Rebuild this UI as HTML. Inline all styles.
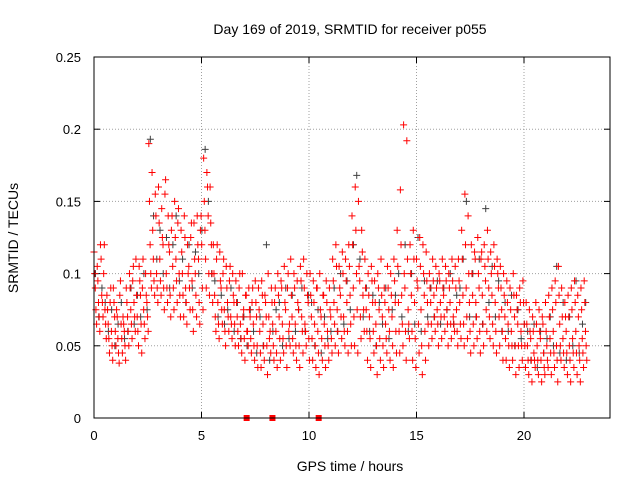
<!DOCTYPE html>
<html><head><meta charset="utf-8"><style>
body{margin:0;background:#fff}
svg{display:block;font-family:"Liberation Sans",sans-serif}
</style></head><body>
<svg id="chart" width="640" height="480" viewBox="0 0 640 480">
<rect x="0" y="0" width="640" height="480" fill="#fff"/>
<g id="grid"></g>
<g id="axes"></g>
<g id="gray"></g>
<g id="red"></g>
<rect x="94" y="57" width="516" height="361" fill="none" stroke="#000" stroke-width="1"/>
<text x="350" y="34" font-size="14" text-anchor="middle">Day 169 of 2019, SRMTID for receiver p055</text>
<text x="350" y="471" font-size="14" text-anchor="middle">GPS time / hours</text>
<text transform="translate(18,238) rotate(-90)" font-size="14" text-anchor="middle">SRMTID / TECUs</text>
</svg>
<script>
const xTicks=[0,5,10,15,20];
const yTicks=[0,0.05,0.1,0.15,0.2,0.25];
const yTickLabels=["0","0.05","0.1","0.15","0.2","0.25"];
const times=[0,0.15,0.3,0.45,0.6,0.75,0.9,1.05,1.2,1.35,1.5,1.65,1.8,1.95,2.1,2.25,2.4,2.55,2.7,2.85,3,3.15,3.3,3.45,3.6,3.75,3.9,4.05,4.2,4.35,4.5,4.65,4.8,4.95,5.1,5.25,5.4,5.55,5.7,5.85,6,6.15,6.3,6.45,6.6,6.75,6.9,7.05,7.2,7.35,7.5,7.65,7.8,7.95,8.1,8.25,8.4,8.55,8.7,8.85,9,9.15,9.3,9.45,9.6,9.75,9.9,10.05,10.2,10.35,10.5,10.65,10.8,10.95,11.1,11.25,11.4,11.55,11.7,11.85,12,12.15,12.3,12.45,12.6,12.75,12.9,13.05,13.2,13.35,13.5,13.65,13.8,13.95,14.1,14.25,14.4,14.55,14.7,14.85,15,15.15,15.3,15.45,15.6,15.75,15.9,16.05,16.2,16.35,16.5,16.65,16.8,16.95,17.1,17.25,17.4,17.55,17.7,17.85,18,18.15,18.3,18.45,18.6,18.75,18.9,19.05,19.2,19.35,19.5,19.65,19.8,19.95,20.1,20.25,20.4,20.55,20.7,20.85,21,21.15,21.3,21.45,21.6,21.75,21.9,22.05,22.2,22.35,22.5,22.65,22.8];
const redA=[.115,.105,.12,.10,.085,.08,.09,.075,.085,.07,.09,.10,.095,.11,.105,.09,.10,.19,.17,.155,.16,.145,.155,.14,.13,.15,.135,.13,.14,.12,.125,.135,.14,.13,.18,.17,.16,.12,.11,.115,.10,.105,.095,.10,.095,.09,.10,.085,.09,.08,.095,.09,.095,.085,.10,.09,.08,.10,.095,.105,.09,.11,.10,.095,.105,.11,.10,.10,.095,.09,.10,.085,.095,.09,.11,.12,.105,.115,.11,.12,.14,.16,.15,.13,.11,.10,.105,.095,.10,.11,.09,.105,.10,.11,.13,.158,.203,.192,.12,.13,.11,.125,.12,.115,.10,.11,.105,.10,.11,.105,.10,.11,.105,.11,.13,.155,.14,.12,.115,.125,.11,.12,.13,.115,.12,.11,.105,.10,.095,.09,.10,.085,.09,.095,.08,.075,.07,.08,.075,.07,.08,.085,.09,.095,.105,.09,.08,.085,.09,.095,.085,.09,.095];
const redB=[.09,.08,.085,.075,.065,.06,.07,.055,.065,.06,.07,.075,.08,.07,.085,.075,.08,.12,.11,.10,.11,.12,.10,.115,.105,.11,.10,.10,.09,.105,.095,.10,.11,.12,.13,.14,.12,.085,.08,.09,.075,.08,.07,.08,.07,.065,.075,.06,.07,.065,.07,.06,.065,.07,.055,.065,.06,.07,.065,.075,.06,.07,.065,.075,.07,.065,.08,.07,.065,.06,.07,.065,.06,.07,.08,.075,.085,.07,.08,.085,.09,.10,.095,.085,.075,.07,.08,.065,.075,.07,.065,.075,.07,.08,.08,.085,.09,.075,.085,.08,.09,.075,.085,.08,.08,.085,.075,.08,.085,.075,.08,.07,.075,.08,.085,.09,.08,.085,.08,.09,.085,.095,.09,.085,.08,.09,.075,.07,.065,.06,.07,.065,.06,.065,.05,.055,.045,.05,.055,.045,.05,.055,.06,.05,.065,.055,.06,.05,.055,.06,.05,.055,.06];
const redC=[.065,.06,.07,.055,.045,.04,.05,.038,.045,.04,.05,.055,.06,.05,.045,.055,.06,.09,.085,.08,.085,.075,.08,.07,.075,.08,.07,.07,.065,.075,.06,.07,.065,.075,.09,.085,.08,.06,.055,.065,.05,.06,.055,.05,.05,.045,.04,.05,.045,.04,.035,.035,.04,.03,.045,.04,.035,.04,.045,.035,.05,.045,.04,.035,.045,.05,.04,.04,.035,.03,.04,.035,.04,.045,.05,.045,.055,.05,.045,.05,.05,.045,.055,.06,.04,.035,.045,.03,.04,.035,.045,.04,.035,.045,.045,.05,.04,.055,.04,.035,.045,.03,.04,.05,.055,.06,.05,.055,.06,.05,.055,.06,.05,.055,.05,.055,.045,.05,.055,.045,.05,.06,.055,.05,.045,.05,.04,.04,.035,.04,.03,.035,.04,.035,.03,.025,.035,.03,.025,.03,.035,.03,.035,.025,.04,.035,.03,.025,.035,.03,.025,.035,.04];
const redD=[.10,.095,.11,.12,.075,.09,.08,.07,.095,.065,.08,.09,.105,.085,.095,.11,.085,.15,.13,.14,.135,.125,.165,.12,.14,.125,.145,.115,.125,.10,.135,.11,.12,.14,.15,.16,.135,.10,.12,.095,.11,.09,.105,.085,.08,.10,.07,.085,.075,.09,.08,.075,.085,.08,.07,.08,.09,.085,.09,.08,.10,.085,.09,.08,.095,.09,.085,.085,.08,.09,.075,.085,.08,.075,.095,.105,.09,.10,.095,.105,.12,.13,.105,.115,.09,.085,.095,.08,.09,.085,.08,.09,.085,.095,.105,.12,.10,.11,.10,.11,.095,.105,.10,.095,.09,.095,.09,.095,.09,.095,.09,.095,.09,.095,.11,.12,.10,.10,.11,.10,.115,.105,.11,.10,.105,.10,.09,.085,.08,.075,.085,.075,.08,.08,.065,.06,.06,.065,.06,.065,.06,.07,.075,.08,.085,.07,.07,.07,.075,.08,.07,.075,.08];
const redE=[.075,.07,.08,.065,.055,.05,.06,.045,.055,.05,.06,.065,.07,.06,.065,.065,.07,.10,.095,.09,.095,.09,.09,.085,.09,.095,.085,.085,.08,.09,.075,.085,.08,.09,.11,.10,.10,.07,.065,.075,.06,.07,.065,.065,.06,.055,.055,.06,.055,.05,.05,.045,.05,.05,.06,.05,.045,.055,.055,.05,.065,.055,.05,.05,.06,.06,.055,.055,.05,.045,.055,.05,.05,.055,.065,.06,.07,.06,.06,.065,.07,.075,.07,.075,.06,.055,.06,.05,.055,.05,.055,.06,.05,.06,.06,.065,.06,.065,.06,.055,.065,.05,.06,.065,.065,.07,.065,.07,.07,.065,.065,.065,.06,.065,.065,.07,.06,.065,.07,.06,.065,.075,.07,.065,.06,.07,.06,.055,.05,.05,.05,.05,.05,.05,.04,.04,.04,.04,.04,.035,.04,.045,.045,.04,.05,.045,.045,.04,.045,.045,.04,.045,.05];
const grayV=[.10,.07,.09,.08,.06,.075,.05,.065,.08,.055,.06,.09,.065,.085,.07,.10,.075,.193,.14,.11,.13,.10,.125,.09,.12,.14,.095,.11,.08,.12,.09,.115,.10,.13,.186,.15,.10,.095,.07,.085,.065,.075,.09,.06,.08,.055,.07,.05,.075,.06,.045,.07,.05,.12,.04,.06,.075,.08,.05,.09,.055,.085,.06,.075,.09,.06,.085,.08,.05,.075,.045,.07,.055,.06,.09,.06,.10,.065,.095,.075,.12,.168,.11,.07,.09,.06,.085,.05,.08,.065,.09,.055,.075,.085,.10,.07,.12,.06,.10,.065,.125,.06,.095,.07,.09,.07,.095,.065,.09,.075,.10,.065,.085,.09,.11,.15,.07,.10,.07,.11,.065,.145,.08,.105,.07,.095,.06,.08,.06,.085,.05,.075,.055,.065,.06,.04,.065,.035,.06,.045,.055,.07,.05,.105,.045,.08,.04,.07,.05,.095,.045,.065,.08];
const squareTimes=[7.1,8.3,10.45];

const NS="http://www.w3.org/2000/svg";
const X0=94,X1=610,Y0=418,Y1=57,XMAX=24,YMAX=0.25;
function xs(t){return X0+t/XMAX*(X1-X0);}
function ys(v){return Y0-v/YMAX*(Y0-Y1);}
function mk(tag,attrs,parent){const e=document.createElementNS(NS,tag);for(const k in attrs)e.setAttribute(k,attrs[k]);parent.appendChild(e);return e;}
const grid=document.getElementById('grid'),axes=document.getElementById('axes');
xTicks.forEach(t=>{
  const x=xs(t);
  if(t>0){const g=mk('line',{x1:x,x2:x,y1:Y0,y2:Y1,stroke:'#a0a0a0','stroke-dasharray':'1,2'},grid);
  
  }
  mk('line',{x1:x,x2:x,y1:Y0,y2:Y0-6,stroke:'#000'},axes);
  mk('line',{x1:x,x2:x,y1:Y1,y2:Y1+6,stroke:'#000'},axes);
  const l=mk('text',{x:x,y:Y0+22,'font-size':13,'text-anchor':'middle'},axes);l.textContent=String(t);
  
  
});
yTicks.forEach((v,i)=>{
  const y=ys(v);
  if(i>0&&i<yTicks.length-1){const g=mk('line',{x1:X0,x2:X1,y1:y,y2:y,stroke:'#a0a0a0','stroke-dasharray':'1,2'},grid);
  
  }
  mk('line',{x1:X0,x2:X0+6,y1:y,y2:y,stroke:'#000'},axes);
  mk('line',{x1:X1,x2:X1-6,y1:y,y2:y,stroke:'#000'},axes);
  const l=mk('text',{x:X0-13,y:y+5,'font-size':13,'text-anchor':'end'},axes);l.textContent=yTickLabels[i];
  
  
});
function plus(parent,t,v,color){
  const x=xs(t),y=ys(v);
  const p=mk('path',{d:`M${x-3.5},${y}h7M${x},${y-3.5}v7`,stroke:color,'stroke-width':1,fill:'none'},parent);
  
  
}
const gG=document.getElementById('gray'),gR=document.getElementById('red');
times.forEach((t,i)=>plus(gG,t+0.07,grayV[i],'#404040'));
times.forEach((t,i)=>{
  plus(gR,t,redA[i],'#ff0000');
  plus(gR,t+0.03,redD[i],'#ff0000');
  plus(gR,t+0.06,redB[i],'#ff0000');
  plus(gR,t+0.09,redE[i],'#ff0000');
  plus(gR,t+0.12,redC[i],'#ff0000');
});
squareTimes.forEach(t=>{
  const s=mk('rect',{x:xs(t)-3,y:Y0-3,width:6,height:6,fill:'#ff0000'},gR);
  
  
});
</script>
</body></html>
